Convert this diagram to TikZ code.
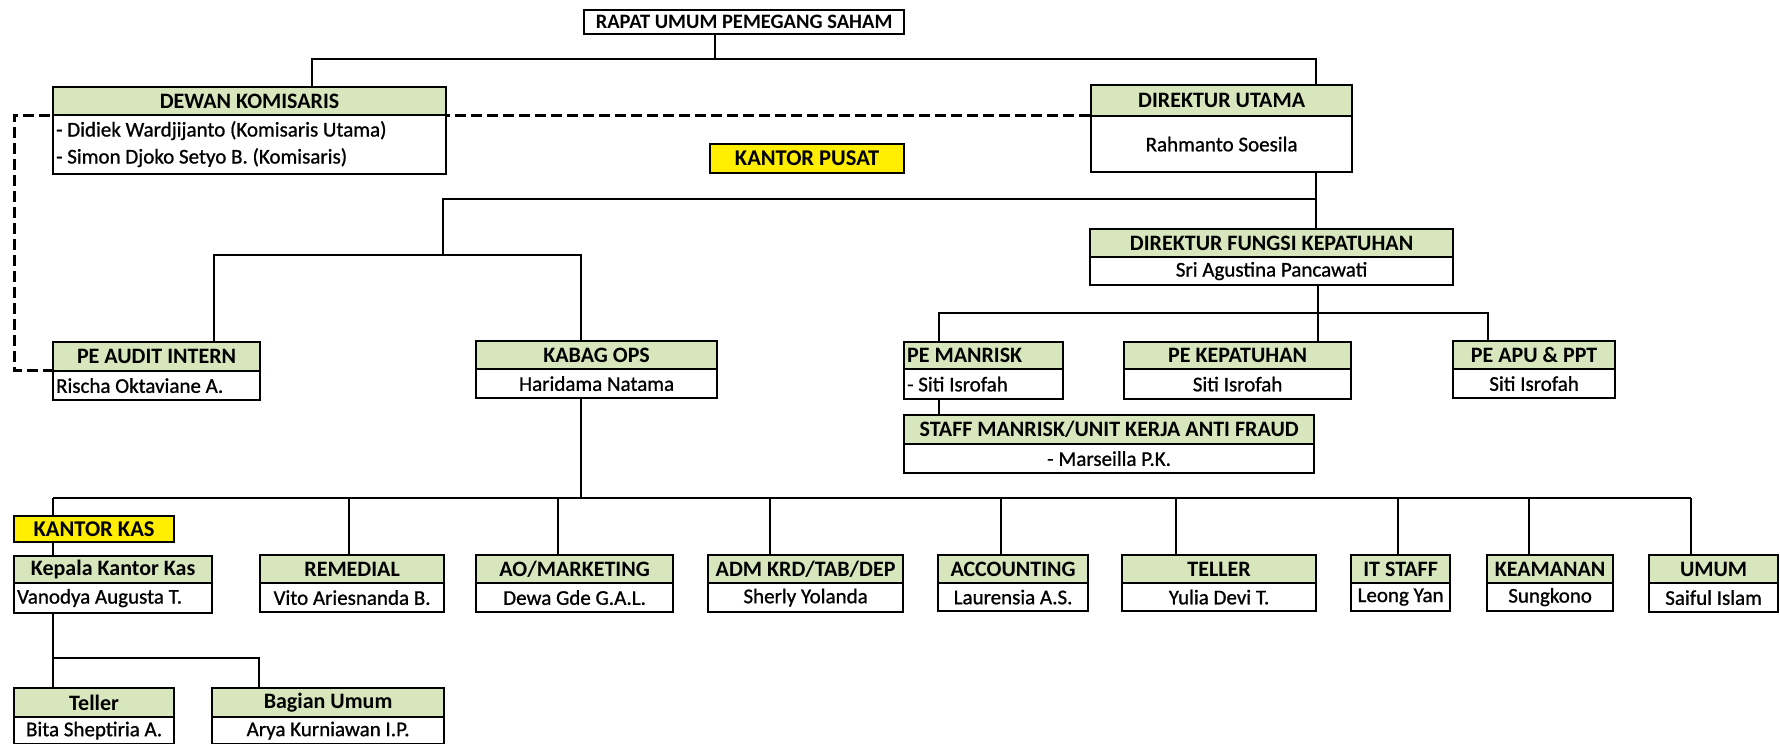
\documentclass[tikz,border=0pt]{standalone}
\usepackage{fontspec}
\setmainfont{Carlito}
\newfontfamily\bodyfont{Carlito}[FakeBold=0.9]
\pgfdeclarelayer{bg}
\pgfsetlayers{bg,main}
\definecolor{hdrgreen}{RGB}{215,230,188}
\definecolor{kyellow}{RGB}{255,238,0}
\tikzset{
  boxline/.style={draw=black,line width=2.2pt,inner xsep=3pt,inner ysep=0pt,anchor=north west},
  hdr/.style={boxline,fill=hdrgreen,font=\fontsize{22}{27}\selectfont\bfseries},
  bdy/.style={boxline,fill=white,font=\bodyfont\fontsize{21}{27}\selectfont},
  whitebox/.style={boxline,fill=white,font=\fontsize{20.5}{27}\selectfont\bfseries},
  ylw/.style={boxline,fill=kyellow,font=\fontsize{22.5}{27}\selectfont\bfseries},
  conn/.style={draw=black,line width=1.7pt},
  dashconn/.style={draw=black,line width=3pt,dash pattern=on 11pt off 5pt},
}
% #1 body align, #2 name, #3 x1, #4 x2, #5 ytop, #6 ymid, #7 ybot, #8 header, #9 body
\newcommand{\orgbox}[9][c]{%
  \pgfmathsetmacro{\bw}{#4-#3-6}%
  \pgfmathsetmacro{\bww}{#4-#3}%
  \pgfmathsetmacro{\hh}{#6-#5}%
  \pgfmathsetmacro{\bh}{#7-#6}%
  \node[hdr,minimum width=\bww pt,minimum height=\hh pt] (#2h) at (#3,#5) {\makebox[\bw pt][c]{#8}};
  \node[bdy,minimum width=\bww pt,minimum height=\bh pt] (#2b) at (#3,#6) {\makebox[\bw pt][#1]{#9}};
}
% #1 name, #2 x1, #3 x2, #4 ytop, #5 ybot, #6 style, #7 text
\newcommand{\flatbox}[7]{%
  \pgfmathsetmacro{\bww}{#3-#2}%
  \pgfmathsetmacro{\hh}{#5-#4}%
  \node[#6,minimum width=\bww pt,minimum height=\hh pt] (#1) at (#2,#4) {#7};
}
\begin{document}
\begin{tikzpicture}[x=1pt,y=-1pt]
\useasboundingbox (0,0) rectangle (1780,744);

% ---------- boxes ----------
\flatbox{rups}{583}{903}{9}{33}{whitebox}{RAPAT UMUM PEMEGANG SAHAM}
\flatbox{kpusat}{709}{903}{143}{172}{ylw}{KANTOR PUSAT}
\flatbox{kkas}{13}{173}{515}{541}{ylw}{KANTOR KAS}

\orgbox[l]{dk}{52}{445}{86}{114}{173}{DEWAN KOMISARIS}{\begin{tabular}{@{}l@{}}- Didiek Wardjijanto (Komisaris Utama)\\- Simon Djoko Setyo B. (Komisaris)\end{tabular}}
\orgbox{du}{1090}{1351}{84}{115}{171}{DIREKTUR UTAMA}{Rahmanto Soesila}
\orgbox{dfk}{1089}{1452}{228}{256}{284}{DIREKTUR FUNGSI KEPATUHAN}{Sri Agustina Pancawati}
\orgbox[l]{pa}{52}{259}{341}{370}{399}{PE AUDIT INTERN}{Rischa Oktaviane A.}
\orgbox{kb}{475}{716}{340}{368}{397}{KABAG OPS}{Haridama Natama}
\orgbox[l]{pm}{903}{1062}{341}{368}{398}{PE MANRISK\hfill}{- Siti Isrofah}
\orgbox{pk}{1123}{1350}{341}{368}{398}{PE KEPATUHAN}{Siti Isrofah}
\orgbox{ap}{1452}{1614}{340}{368}{397}{PE APU \& PPT}{Siti Isrofah}
\orgbox{st}{903}{1313}{414}{443}{472}{STAFF MANRISK/UNIT KERJA ANTI FRAUD}{- Marseilla P.K.}

\orgbox[l]{kp}{13}{211}{555}{582}{612}{Kepala Kantor Kas}{Vanodya Augusta T.}
\orgbox{rem}{259}{443}{554}{582}{611}{REMEDIAL}{Vito Ariesnanda B.}
\orgbox{ao}{475}{672}{554}{582}{611}{AO/MARKETING}{Dewa Gde G.A.L.}
\orgbox{adm}{707}{902}{554}{582}{611}{ADM KRD/TAB/DEP}{Sherly Yolanda}
\orgbox{acc}{937}{1087}{554}{582}{610}{ACCOUNTING}{Laurensia A.S.}
\orgbox{tel}{1121}{1315}{554}{582}{610}{TELLER}{Yulia Devi T.}
\orgbox{it}{1350}{1449}{554}{582}{610}{IT STAFF}{Leong Yan}
\orgbox{kea}{1486}{1612}{554}{582}{610}{KEAMANAN}{Sungkono}
\orgbox{umu}{1648}{1777}{554}{582}{611}{UMUM}{Saiful Islam}

\orgbox{tl}{13}{173}{687}{716}{743}{Teller}{Bita Sheptiria A.}
\orgbox{bu}{211}{443}{687}{716}{743}{Bagian Umum}{Arya Kurniawan I.P.}

% ---------- junction coordinates ----------
\coordinate (t1) at (715,59);
\coordinate (t2) at (312,59);
\coordinate (t3) at (1316,59);
\coordinate (dx) at (14,0);
\coordinate (m1) at (1316,199);
\coordinate (m2) at (443,199);
\coordinate (m3) at (443,255);
\coordinate (m4) at (214,255);
\coordinate (m5) at (581,255);
\coordinate (p1) at (1318,313);
\coordinate (p2) at (939,313);
\coordinate (p3) at (1488,313);
\coordinate (q0) at (581,498);
\coordinate (q1) at (53,498);
\coordinate (qrem) at (349,498);
\coordinate (qao) at (558,498);
\coordinate (qadm) at (770,498);
\coordinate (qacc) at (1001,498);
\coordinate (qtel) at (1176,498);
\coordinate (qit) at (1398,498);
\coordinate (qkea) at (1529,498);
\coordinate (qumu) at (1691,498);
\coordinate (r1) at (53,658);
\coordinate (r2) at (259,658);

% ---------- connectors ----------
\begin{pgfonlayer}{bg}
\draw[dashconn] (dub.north west) -- (dub.north west -| dx) |- (pab.north west);

\draw[conn] (rups.south -| t1) -- (t1);
\draw[conn] (dkh.north -| t2) -- (t2) -- (t3) -- (duh.north -| t3);

\draw[conn] (dub.south -| m1) -- (dfkh.north -| m1);
\draw[conn] (m1) -- (m2) -- (m3);
\draw[conn] (pah.north -| m4) -- (m4) -- (m5) -- (kbh.north -| m5);

\draw[conn] (dfkb.south -| p1) -- (pkh.north -| p1);
\draw[conn] (pmh.north -| p2) -- (p2) -- (p3) -- (aph.north -| p3);
\draw[conn] (pmb.south -| p2) -- (sth.north -| p2);

\draw[conn] (kbb.south -| q0) -- (q0);
\draw[conn] (q1) -- (qumu);
\draw[conn] (q1) -- (kkas.north -| q1);
\draw[conn] (kkas.south -| q1) -- (kph.north -| q1);
\draw[conn] (qrem) -- (remh.north -| qrem);
\draw[conn] (qao) -- (aoh.north -| qao);
\draw[conn] (qadm) -- (admh.north -| qadm);
\draw[conn] (qacc) -- (acch.north -| qacc);
\draw[conn] (qtel) -- (telh.north -| qtel);
\draw[conn] (qit) -- (ith.north -| qit);
\draw[conn] (qkea) -- (keah.north -| qkea);
\draw[conn] (qumu) -- (umuh.north -| qumu);

\draw[conn] (kpb.south -| r1) -- (r1) -- (r2) -- (buh.north -| r2);
\draw[conn] (r1) -- (tlh.north -| r1);
\end{pgfonlayer}
\end{tikzpicture}
\end{document}
